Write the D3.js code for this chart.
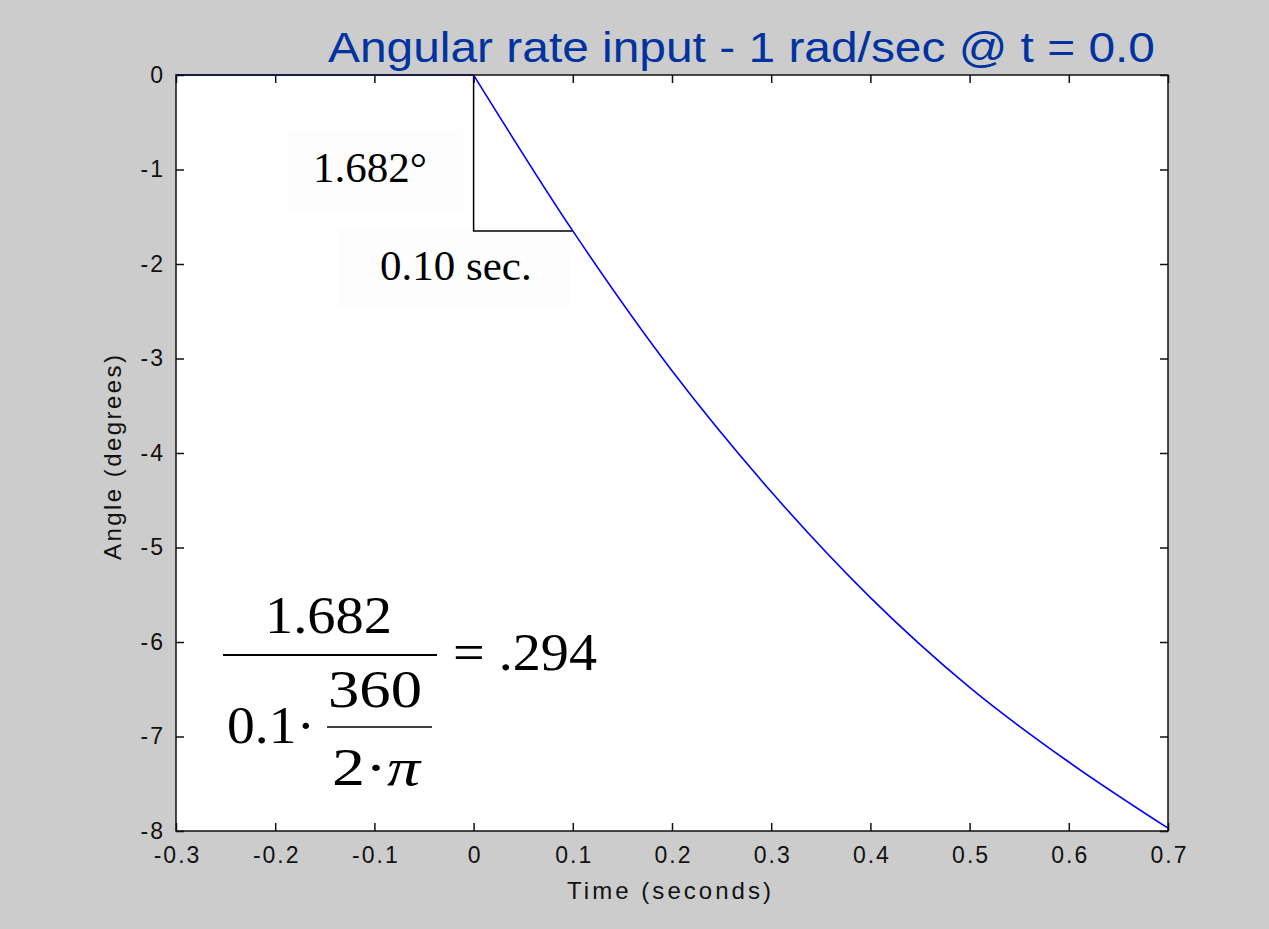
<!DOCTYPE html>
<html>
<head>
<meta charset="utf-8">
<script src="https://cdn.jsdelivr.net/npm/d3@7"></script>
<style>
  html, body { margin: 0; padding: 0; background: #cccccc; }
  svg { display: block; }
  .tick text { font-family: "Liberation Sans", Arial, sans-serif; font-size: 23px; fill: #111; letter-spacing: 2px; }
  .tick line { stroke: #111; stroke-width: 1.5; }
</style>
</head>
<body>
<div id="chart"></div>
<script>
// values
var xTicks = [-0.3, -0.2, -0.1, 0, 0.1, 0.2, 0.3, 0.4, 0.5, 0.6, 0.7];
var yTicks = [0, -1, -2, -3, -4, -5, -6, -7, -8];

// before the input: angle holds at zero
var preTime = [-0.3, 0];
var preAngle = [0, 0];

// response after the 1 rad/sec step at t = 0
var respTime = [0, 0.1, 0.2, 0.3, 0.4, 0.5, 0.6, 0.7];
var respAngle = [0, -1.65, -3.13, -4.41, -5.53, -6.48, -7.27, -7.97];

var W = 1269, H = 929;
var margins = {top: 75, right: 101, bottom: 98, left: 176},
    width = W - margins.left - margins.right,
    height = H - margins.top - margins.bottom;

var svg = d3.select("#chart").append("svg")
  .attr("width", W).attr("height", H);

svg.append("rect").attr("width", W).attr("height", H).attr("fill", "#cccccc");

var g = svg.append("g").attr("transform", "translate(" + margins.left + "," + margins.top + ")");

var xScale = d3.scaleLinear().domain([-0.3, 0.7]).range([0, width]);
var yScale = d3.scaleLinear().domain([0, -8]).range([0, height]);

g.append("rect").attr("width", width).attr("height", height).attr("fill", "#ffffff");

// axes, matlab style: ticks point inwards on all four sides, plain hyphen for minus
var fmt = function(d) { return String(+d.toFixed(1)); };
var bAxis = d3.axisBottom(xScale).tickValues(xTicks).tickSize(-8).tickPadding(16).tickFormat(fmt);
var tAxis = d3.axisTop(xScale).tickValues(xTicks).tickSize(-8).tickFormat("");
var lAxis = d3.axisLeft(yScale).tickValues(yTicks).tickSize(-8).tickPadding(13).tickFormat(fmt);
var rAxis = d3.axisRight(yScale).tickValues(yTicks).tickSize(-8).tickFormat("");

g.append("g").attr("class", "x-axis").attr("transform", "translate(0," + height + ")").call(bAxis);
g.append("g").call(tAxis);
g.append("g").attr("class", "y-axis").call(lAxis);
g.append("g").attr("transform", "translate(" + width + ",0)").call(rAxis);
g.selectAll(".domain").remove();
g.selectAll(".x-axis .tick text").attr("dx", "1px");
g.selectAll(".y-axis .tick text").attr("dx", "2px");

// annotation boxes (barely off-white behind text)
g.append("rect").attr("x", 287 - margins.left).attr("y", 130 - margins.top)
  .attr("width", 176).attr("height", 82).attr("fill", "#fdfdfd");
g.append("rect").attr("x", 338 - margins.left).attr("y", 228 - margins.top)
  .attr("width", 232).attr("height", 80).attr("fill", "#fdfdfd");

// slope triangle between t = 0 and t = 0.1
var triPts = [[0, 0], [0, respAngle[1]], [0.1, respAngle[1]]];
g.append("path")
  .attr("d", d3.line().x(function(d) { return xScale(d[0]); }).y(function(d) { return yScale(d[1]); })(triPts))
  .attr("fill", "none").attr("stroke", "#000").attr("stroke-width", 1.5);

// curve
var line = d3.line()
  .x(function(d) { return xScale(d.t); })
  .y(function(d) { return yScale(d.a); });

var pre = preTime.map(function(t, i) { return {t: t, a: preAngle[i]}; });
var resp = respTime.map(function(t, i) { return {t: t, a: respAngle[i]}; });

g.append("path").datum(pre).attr("d", line)
  .attr("fill", "none").attr("stroke", "#0000ff").attr("stroke-width", 1.6);
g.append("path").datum(resp).attr("d", line.curve(d3.curveMonotoneX))
  .attr("fill", "none").attr("stroke", "#0000ff").attr("stroke-width", 1.6);

// frame
g.append("rect").attr("width", width).attr("height", height)
  .attr("fill", "none").attr("stroke", "#111").attr("stroke-width", 1.5);

// annotation texts
var serif = '"Liberation Serif", "Times New Roman", serif';
svg.append("text").attr("x", 313).attr("y", 182)
  .style("font-family", serif).style("font-size", "43px").text("1.682°");
svg.append("text").attr("x", 380).attr("y", 280)
  .style("font-family", serif).style("font-size", "43px").text("0.10 sec.");

// equation (slightly stretched horizontally like the original)
var eq = svg.append("g").style("font-family", serif).style("font-size", "52px").attr("fill", "#000");
function eqText(x, y, len, s) {
  return eq.append("text").attr("x", x).attr("y", y)
    .attr("textLength", len).attr("lengthAdjust", "spacingAndGlyphs").text(s);
}
eqText(265, 633, 127, "1.682");
eq.append("line").attr("x1", 223).attr("x2", 437).attr("y1", 655).attr("y2", 655).attr("stroke", "#000").attr("stroke-width", 2);
eqText(453, 670, 144, "= .294");
eqText(227, 743, 88, "0.1·");
eqText(328, 707, 94, "360");
eq.append("line").attr("x1", 327).attr("x2", 432).attr("y1", 727).attr("y2", 727).attr("stroke", "#000").attr("stroke-width", 1.5);
var den = eq.append("text").attr("x", 332).attr("y", 785).attr("textLength", 88).attr("lengthAdjust", "spacingAndGlyphs");
den.append("tspan").text("2·");
den.append("tspan").style("font-style", "italic").text("π");

// labels
var sans = '"Liberation Sans", Arial, sans-serif';
svg.append("text").attr("x", 567).attr("y", 899)
  .attr("textLength", 204).attr("lengthAdjust", "spacing")
  .style("font-family", sans).style("font-size", "24px").attr("fill", "#111")
  .text("Time (seconds)");
svg.append("text").attr("transform", "translate(121,560) rotate(-90)")
  .attr("textLength", 205).attr("lengthAdjust", "spacing")
  .style("font-family", sans).style("font-size", "24px").attr("fill", "#111")
  .text("Angle (degrees)");

// title
svg.append("text").attr("x", 328).attr("y", 62)
  .attr("textLength", 827).attr("lengthAdjust", "spacingAndGlyphs")
  .style("font-family", sans).style("font-size", "42px").attr("fill", "#0033a0")
  .text("Angular rate input - 1 rad/sec @ t = 0.0");
</script>
</body>
</html>
